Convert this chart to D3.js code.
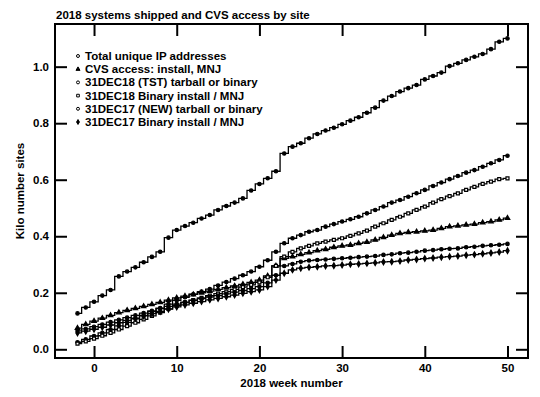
<!DOCTYPE html>
<html>
<head>
<meta charset="utf-8">
<script src="https://cdn.jsdelivr.net/npm/d3@7"></script>
<style>
  body { margin: 0; background: #fff; }
  text { font-family: "Liberation Sans", Arial, sans-serif; font-weight: bold; fill: #000; }
</style>
</head>
<body>
<div class="chart-container"></div>
<script>
const svgWidth = 540;
const svgHeight = 397;

// weeks -2 .. 50
const weeks = d3.range(-2, 51);

const seriesNames = [
  "Total unique IP addresses",
  "CVS access: install, MNJ",
  "31DEC18 (TST) tarball or binary",
  "31DEC18 Binary install / MNJ",
  "31DEC17 (NEW) tarball or binary",
  "31DEC17 Binary install / MNJ"
];

const totalIP = [0.127, 0.148, 0.168, 0.19, 0.21, 0.258, 0.275, 0.29, 0.308, 0.327,
  0.345, 0.395, 0.422, 0.436, 0.448, 0.463, 0.475, 0.493, 0.507, 0.519,
  0.534, 0.562, 0.585, 0.605, 0.63, 0.693, 0.717, 0.729, 0.747, 0.762,
  0.774, 0.784, 0.796, 0.809, 0.821, 0.837, 0.855, 0.88, 0.896, 0.912,
  0.924, 0.935, 0.955, 0.967, 0.979, 1.002, 1.012, 1.024, 1.035, 1.045,
  1.062, 1.088, 1.1];

const cvsAccess = [0.075, 0.088, 0.1, 0.11, 0.12, 0.13, 0.138, 0.145, 0.152, 0.159,
  0.166, 0.174, 0.182, 0.188, 0.194, 0.2, 0.206, 0.212, 0.218, 0.224,
  0.23, 0.237, 0.245, 0.26, 0.295, 0.322, 0.328, 0.336, 0.342, 0.349,
  0.354, 0.361, 0.366, 0.369, 0.375, 0.379, 0.387, 0.396, 0.404, 0.41,
  0.414, 0.416, 0.419, 0.422, 0.428, 0.434, 0.437, 0.44, 0.443, 0.448,
  0.452, 0.458, 0.464];

const tst18 = [0.025, 0.035, 0.047, 0.058, 0.07, 0.083, 0.095, 0.108, 0.12, 0.133,
  0.146, 0.16, 0.173, 0.184, 0.195, 0.204, 0.213, 0.226, 0.238, 0.25,
  0.262, 0.275, 0.292, 0.315, 0.345, 0.375, 0.393, 0.404, 0.416, 0.422,
  0.434, 0.443, 0.452, 0.46, 0.469, 0.481, 0.493, 0.505, 0.519, 0.528,
  0.54, 0.552, 0.564, 0.578, 0.59, 0.602, 0.613, 0.625, 0.634, 0.646,
  0.658, 0.67, 0.685];

const bin18 = [0.02, 0.028, 0.038, 0.048, 0.058, 0.07, 0.082, 0.094, 0.106, 0.118,
  0.13, 0.143, 0.155, 0.165, 0.174, 0.182, 0.19, 0.197, 0.204, 0.212,
  0.22, 0.228, 0.237, 0.255, 0.295, 0.328, 0.345, 0.357, 0.366, 0.375,
  0.381, 0.387, 0.393, 0.401, 0.41, 0.42, 0.434, 0.446, 0.458, 0.469,
  0.481, 0.493, 0.505, 0.519, 0.531, 0.542, 0.552, 0.564, 0.575, 0.585,
  0.593, 0.602, 0.605];

const new17 = [0.065, 0.072, 0.08, 0.088, 0.096, 0.104, 0.112, 0.12, 0.128, 0.136,
  0.144, 0.152, 0.16, 0.167, 0.173, 0.179, 0.185, 0.19, 0.196, 0.202,
  0.208, 0.215, 0.222, 0.235, 0.262, 0.295, 0.302, 0.31, 0.314, 0.316,
  0.318, 0.32, 0.322, 0.324, 0.326, 0.328, 0.33, 0.334, 0.336, 0.34,
  0.342, 0.345, 0.349, 0.351, 0.354, 0.356, 0.357, 0.361, 0.363, 0.366,
  0.368, 0.37, 0.373];

const bin17 = [0.058, 0.064, 0.071, 0.078, 0.086, 0.094, 0.102, 0.11, 0.118, 0.126,
  0.134, 0.142, 0.15, 0.157, 0.163, 0.169, 0.175, 0.18, 0.186, 0.192,
  0.198, 0.204, 0.21, 0.222, 0.245, 0.269, 0.281, 0.287, 0.29, 0.292,
  0.295, 0.296, 0.298, 0.301, 0.302, 0.304, 0.306, 0.309, 0.31, 0.312,
  0.316, 0.318, 0.321, 0.323, 0.326, 0.328, 0.33, 0.333, 0.335, 0.338,
  0.341, 0.344, 0.349];

const seriesValues = [totalIP, cvsAccess, tst18, bin18, new17, bin17];
const seriesSymbols = [d3.symbolCircle, d3.symbolTriangle, d3.symbolCircle, d3.symbolSquare, d3.symbolCircle, d3.symbolDiamond];
const seriesFill = ["#000", "#000", "#000", "#fff", "#000", "#000"];
const legendFill = ["#fff", "#000", "#fff", "#fff", "#fff", "#000"];

const xTicks = [0, 10, 20, 30, 40, 50];
const yTicks = [0.0, 0.2, 0.4, 0.6, 0.8, 1.0];

const plotLeft = 55, plotRight = 528, plotTop = 24, plotBottom = 358;
const fontSize = "11.5px";

const svg = d3.select(".chart-container")
  .append("svg")
  .attr("width", svgWidth)
  .attr("height", svgHeight);

const xScale = d3.scaleLinear().domain([-4.72, 52.48]).range([plotLeft, plotRight]);
const yScale = d3.scaleLinear().domain([-0.0308, 1.151]).range([plotBottom, plotTop]);

// axes, ticks pointing inward
function styleAxis(g) {
  g.select(".domain").remove();
  g.selectAll(".tick line").attr("stroke", "#000").attr("stroke-width", 2);
  g.selectAll(".tick text").style("font-size", fontSize).style("font-family", "'Liberation Sans', Arial, sans-serif").style("font-weight", "bold");
}

svg.append("g")
  .attr("transform", "translate(0," + plotBottom + ")")
  .call(d3.axisBottom(xScale).tickValues(xTicks).tickSize(-12).tickPadding(6).tickFormat(d3.format("d")))
  .call(styleAxis);

svg.append("g")
  .attr("transform", "translate(0," + plotTop + ")")
  .call(d3.axisTop(xScale).tickValues(xTicks).tickSize(-12).tickFormat(""))
  .call(styleAxis);

svg.append("g")
  .attr("transform", "translate(" + plotLeft + ",0)")
  .call(d3.axisLeft(yScale).tickValues(yTicks).tickSize(-12).tickPadding(6).tickFormat(d3.format(".1f")))
  .call(styleAxis);

svg.append("g")
  .attr("transform", "translate(" + plotRight + ",0)")
  .call(d3.axisRight(yScale).tickValues(yTicks).tickSize(-12).tickFormat(""))
  .call(styleAxis);

svg.append("rect")
  .attr("x", plotLeft)
  .attr("y", plotTop)
  .attr("width", plotRight - plotLeft)
  .attr("height", plotBottom - plotTop)
  .attr("fill", "none")
  .attr("stroke", "#000")
  .attr("stroke-width", 2);

// lines
const line = d3.line()
  .x(function(d) { return xScale(d.w); })
  .y(function(d) { return yScale(d.v); })
  .curve(d3.curveStep);

seriesValues.forEach(function(vals, i) {
  const data = weeks.map(function(w, j) { return {w: w, v: vals[j]}; });
  svg.append("path")
    .datum(data)
    .attr("d", line)
    .attr("fill", "none")
    .attr("stroke", "#000")
    .attr("stroke-width", 1.3);

  svg.append("g").selectAll("path")
    .data(data)
    .enter()
    .append("path")
    .attr("transform", function(d) { return "translate(" + xScale(d.w) + "," + yScale(d.v) + ")"; })
    .attr("d", d3.symbol().type(seriesSymbols[i]).size(9))
    .attr("fill", seriesFill[i])
    .attr("stroke", "#000")
    .attr("stroke-width", 1.2);
});

// legend
const legend = svg.append("g").attr("transform", "translate(78,56)");
seriesNames.forEach(function(name, i) {
  const row = legend.append("g").attr("transform", "translate(0," + (i * 13.2) + ")");
  row.append("path")
    .attr("d", d3.symbol().type(seriesSymbols[i]).size(7))
    .attr("fill", legendFill[i])
    .attr("stroke", "#000")
    .attr("stroke-width", 1);
  row.append("text")
    .attr("x", 7)
    .attr("y", 4)
    .style("font-size", fontSize)
    .text(name);
});

// titles
svg.append("text")
  .attr("x", 56)
  .attr("y", 19)
  .style("font-size", fontSize)
  .text("2018 systems shipped and CVS access by site");

svg.append("text")
  .attr("x", (plotLeft + plotRight) / 2)
  .attr("y", 387)
  .attr("text-anchor", "middle")
  .style("font-size", fontSize)
  .text("2018 week number");

svg.append("text")
  .attr("transform", "translate(24," + ((plotTop + plotBottom) / 2) + ") rotate(-90)")
  .attr("text-anchor", "middle")
  .style("font-size", fontSize)
  .text("Kilo number sites");
</script>
</body>
</html>
